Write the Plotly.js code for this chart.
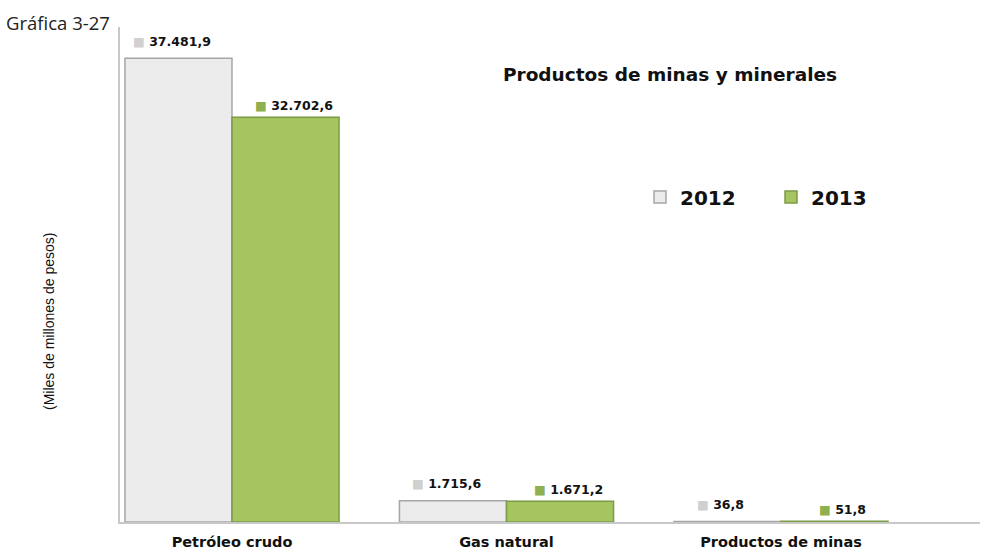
<!DOCTYPE html>
<html>
<head>
<meta charset="utf-8">
<script src="https://cdn.plot.ly/plotly-3.0.1.min.js"></script>
<style>html,body{margin:0;padding:0;background:#fff;}#chart{width:981px;height:552px;}</style>
</head>
<body>
<div id="chart"></div>
<script>
const categories = ['Petróleo crudo', 'Gas natural', 'Productos de minas'];
const values2012 = [37481.9, 1715.6, 36.8];
const values2013 = [32702.6, 1671.2, 51.8];
const labels2012 = ['37.481,9', '1.715,6', '36,8'];
const labels2013 = ['32.702,6', '1.671,2', '51,8'];
const seriesNames = ['2012', '2013'];

const c2012 = '#ececec', l2012 = '#a6a6a6';
const c2013 = '#a5c561', l2013 = '#7d9a45';

const traces = [
  {type: 'bar', name: seriesNames[0], x: categories, y: values2012,
   marker: {color: c2012, line: {color: l2012, width: 1.5}}, hoverinfo: 'skip'},
  {type: 'bar', name: seriesNames[1], x: categories, y: values2013,
   marker: {color: c2013, line: {color: l2013, width: 1.5}}, hoverinfo: 'skip'}
];

const W = 981, H = 552, ml = 120, mr = 1, mt = 27, mb = 30;
const pw = W - ml - mr, ph = H - mt - mb;

const annotations = [];
const lblFont = {family: 'DejaVu Sans, sans-serif', size: 12.5, color: '#111', weight: 'bold'};
categories.forEach((c, i) => {
  annotations.push({x: c, y: values2012[i], xref: 'x', yref: 'y', xshift: -60, yshift: 17,
    text: '<span style="color:#d0d0d0">■</span> ' + labels2012[i], showarrow: false, font: lblFont});
  annotations.push({x: c, y: values2013[i], xref: 'x', yref: 'y', xshift: 62, yshift: 12,
    text: '<span style="color:#8fb04e">■</span> ' + labels2013[i], showarrow: false, font: lblFont});
});
annotations.push({text: 'Gráfica 3-27', xref: 'paper', yref: 'paper', x: (4 - ml) / pw, y: (H - mb - 8) / ph,
  xanchor: 'left', yanchor: 'top', showarrow: false,
  font: {family: 'Open Sans, sans-serif', size: 18.5, color: '#222'}});
annotations.push({text: '(Miles de millones de pesos)', xref: 'paper', yref: 'paper',
  x: (49 - ml) / pw, y: (H - mb - 322) / ph, xanchor: 'center', yanchor: 'middle', textangle: -90, showarrow: false,
  font: {family: 'Liberation Sans, sans-serif', size: 14, color: '#111'}});

const layout = {
  width: W, height: H,
  margin: {l: ml, r: mr, t: mt, b: mb, autoexpand: false},
  paper_bgcolor: '#fff', plot_bgcolor: '#fff',
  barmode: 'group', bargap: 0.22, bargroupgap: 0,
  title: {text: 'Productos de minas y minerales', x: 670 / W, xanchor: 'center', y: 1 - 75 / H, yanchor: 'middle',
    font: {family: 'DejaVu Sans, sans-serif', size: 18.5, color: '#111', weight: 'bold'}},
  xaxis: {type: 'category', range: [-0.408, 2.725], showgrid: false, zeroline: false,
    showline: true, linecolor: '#c8c8c8', linewidth: 2, ticks: '', ticklen: 0, ticklabelstandoff: 6,
    tickfont: {family: 'DejaVu Sans, sans-serif', size: 14.5, color: '#111', weight: 'bold'}},
  yaxis: {range: [0, 40000], showgrid: false, zeroline: false, showticklabels: false,
    showline: true, linecolor: '#c8c8c8', linewidth: 2, ticks: '', title: {text: ''}},
  showlegend: true,
  legend: {orientation: 'h', x: (640 - ml) / pw, y: (H - mb - 197) / ph, xanchor: 'left', yanchor: 'middle',
    entrywidth: 86, entrywidthmode: 'pixels', itemwidth: 30,
    font: {family: 'DejaVu Sans, sans-serif', size: 20, color: '#111', weight: 'bold'}, bgcolor: 'rgba(0,0,0,0)'},
  annotations: annotations
};

Plotly.newPlot('chart', traces, layout, {displayModeBar: false, staticPlot: true});
</script>
</body>
</html>
